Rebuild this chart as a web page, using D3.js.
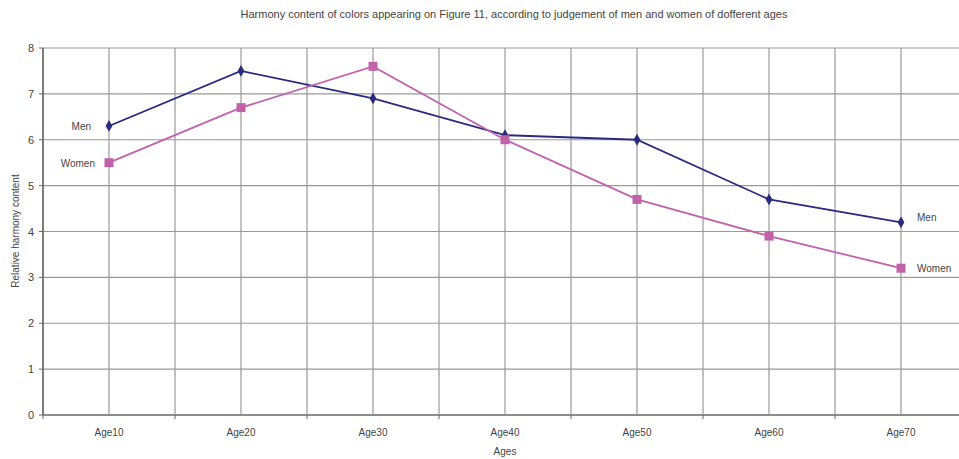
<!DOCTYPE html>
<html><head><meta charset="utf-8">
<script src="https://cdn.jsdelivr.net/npm/d3@7"></script>
<style>body{margin:0;background:#fff}svg{display:block}text{font-family:"Liberation Sans",Arial,sans-serif;fill:#444}</style>
</head><body><svg id="c" width="959" height="459"></svg>
<script>
const categories = ["Age10","Age20","Age30","Age40","Age50","Age60","Age70"];
const men = [6.3, 7.5, 6.9, 6.1, 6.0, 4.7, 4.2];
const women = [5.5, 6.7, 7.6, 6.0, 4.7, 3.9, 3.2];
const yTicks = [0,1,2,3,4,5,6,7,8];
const title = "Harmony content of colors appearing on Figure 11, according to judgement of men and women of dofferent ages";

const svg = d3.select("#c");
const L = 43, T = 48, B = 415, R = 967;
const x = d3.scaleBand().domain(categories).range([L, R]);
const y = d3.scaleLinear().domain([0, 8]).range([B, T]);
const bw = x.bandwidth();

// grid horizontal
svg.append("g").selectAll("line").data(yTicks).join("line")
  .attr("x1", L).attr("x2", R).attr("y1", d => y(d)).attr("y2", d => y(d))
  .attr("stroke", d => d === 0 ? "#666" : "#999").attr("stroke-width", d => d===0?1.5:1.2);
// grid vertical: band boundaries and centers
const vx = [];
categories.forEach(c => { vx.push(x(c)); vx.push(x(c) + bw/2); });
vx.push(R);
svg.append("g").selectAll("line").data(vx).join("line")
  .attr("x1", d => d).attr("x2", d => d).attr("y1", T).attr("y2", B)
  .attr("stroke", "#999").attr("stroke-width", 1.2);
// x ticks at boundaries
svg.append("g").selectAll("line").data(categories).join("line")
  .attr("x1", d => x(d)).attr("x2", d => x(d)).attr("y1", B).attr("y2", B + 4)
  .attr("stroke", "#666");
// y axis
svg.append("line").attr("x1", L).attr("x2", L).attr("y1", T).attr("y2", B).attr("stroke", "#666").attr("stroke-width", 1.5);
svg.append("g").selectAll("line").data(yTicks).join("line")
  .attr("x1", L - 4).attr("x2", L).attr("y1", d => y(d)).attr("y2", d => y(d)).attr("stroke", "#666");
svg.append("g").selectAll("text").data(yTicks).join("text")
  .attr("x", L - 9).attr("y", d => y(d) + 4).attr("text-anchor", "end")
  .style("font-size", "11px").text(d => d);
// x labels
svg.append("g").selectAll("text").data(categories).join("text")
  .attr("x", d => x(d) + bw/2).attr("y", 436).attr("text-anchor", "middle")
  .style("font-size", "10px").text(d => d);
svg.append("text").attr("x", 505).attr("y", 455).attr("text-anchor", "middle").style("font-size", "10px").text("Ages");
svg.append("text").attr("transform", "translate(19,231) rotate(-90)").attr("text-anchor", "middle")
  .style("font-size", "10px").text("Relative harmony content");
svg.append("text").attr("x", 514).attr("y", 18).attr("text-anchor", "middle").style("font-size", "11px").text(title);

const line = d3.line().x((d, i) => x(categories[i]) + bw/2).y(d => y(d));
const menC = "#2a2a80", womenC = "#c162ab";
svg.append("path").attr("d", line(men)).attr("fill", "none").attr("stroke", menC).attr("stroke-width", 1.8);
svg.append("path").attr("d", line(women)).attr("fill", "none").attr("stroke", womenC).attr("stroke-width", 1.8);
svg.append("g").selectAll("path").data(men).join("path")
  .attr("transform", (d, i) => `translate(${x(categories[i]) + bw/2},${y(d)})`)
  .attr("d", d3.symbol(d3.symbolDiamond, 40)).attr("fill", menC);
svg.append("g").selectAll("rect").data(women).join("rect")
  .attr("x", (d, i) => x(categories[i]) + bw/2 - 4.5).attr("y", d => y(d) - 4.5)
  .attr("width", 9).attr("height", 9).attr("fill", womenC);

// series labels
const n = categories.length - 1;
svg.append("text").attr("x", 91).attr("y", y(men[0]) + 4).attr("text-anchor", "end").style("font-size", "10px").text("Men");
svg.append("text").attr("x", 95).attr("y", y(women[0]) + 4).attr("text-anchor", "end").style("font-size", "10px").text("Women");
svg.append("text").attr("x", 917).attr("y", y(men[n]) - 1).style("font-size", "10px").text("Men");
svg.append("text").attr("x", 917).attr("y", y(women[n]) + 4).style("font-size", "10px").text("Women");
</script></body></html>
